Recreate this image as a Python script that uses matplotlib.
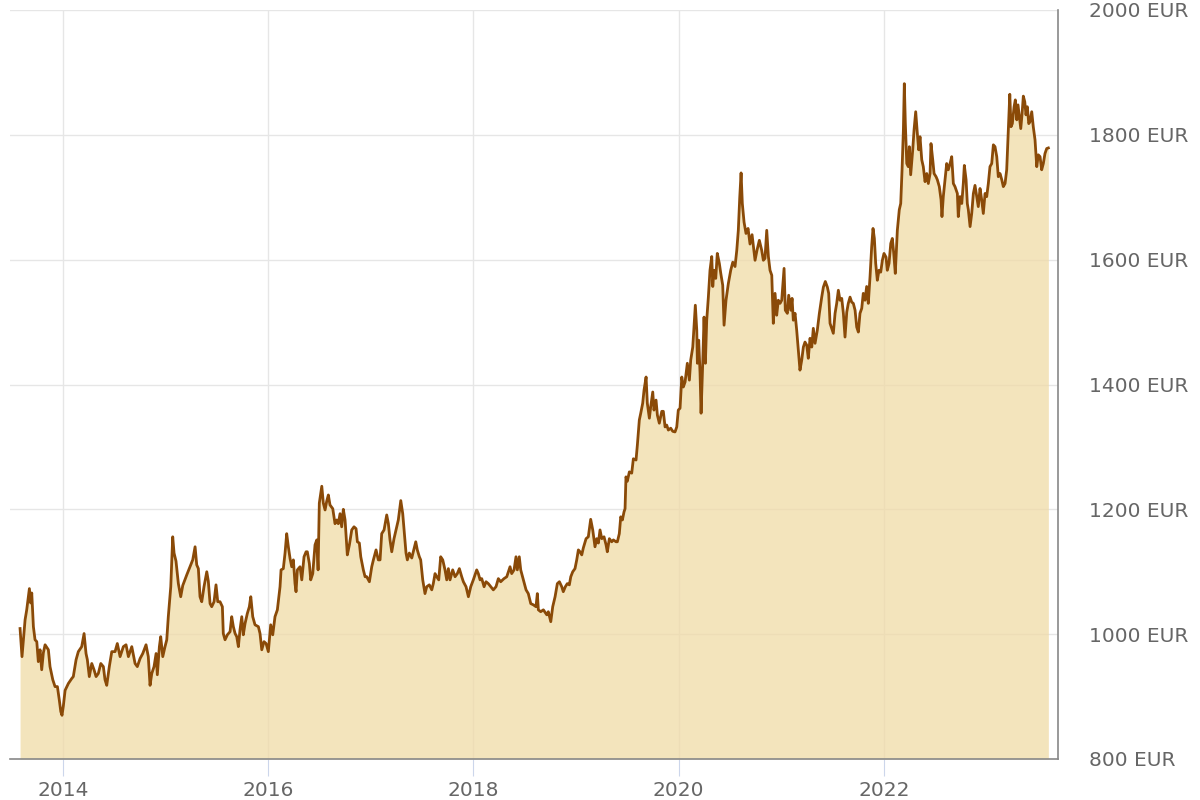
import matplotlib
matplotlib.use('Agg')
import matplotlib.pyplot as plt

plt.rcParams['font.family'] = ['DejaVu Sans']

# Goldpreis in EUR (Jahr als Dezimalzahl)
year = [
    2013.581, 2013.600, 2013.630, 2013.646, 2013.672, 2013.685, 2013.695, 2013.711, 2013.727, 2013.744,
    2013.759, 2013.776, 2013.792, 2013.808, 2013.825, 2013.857, 2013.873, 2013.900, 2013.922, 2013.945,
    2013.964, 2013.978, 2013.990, 2014.003, 2014.020, 2014.052, 2014.085, 2014.100, 2014.127, 2014.149,
    2014.182, 2014.205, 2014.224, 2014.237, 2014.256, 2014.280, 2014.302, 2014.322, 2014.344, 2014.368,
    2014.393, 2014.409, 2014.426, 2014.451, 2014.475, 2014.507, 2014.529, 2014.556, 2014.588, 2014.614,
    2014.637, 2014.670, 2014.702, 2014.724, 2014.751, 2014.777, 2014.809, 2014.831, 2014.848, 2014.865,
    2014.887, 2014.907, 2014.919, 2014.939, 2014.952, 2014.972, 2014.994, 2015.011, 2015.026, 2015.050,
    2015.069, 2015.082, 2015.101, 2015.124, 2015.147, 2015.167, 2015.206, 2015.238, 2015.264, 2015.287,
    2015.303, 2015.319, 2015.335, 2015.352, 2015.374, 2015.401, 2015.416, 2015.433, 2015.449, 2015.472,
    2015.491, 2015.508, 2015.530, 2015.553, 2015.562, 2015.579, 2015.602, 2015.628, 2015.644, 2015.660,
    2015.677, 2015.693, 2015.709, 2015.725, 2015.742, 2015.757, 2015.774, 2015.796, 2015.816, 2015.830,
    2015.849, 2015.871, 2015.904, 2015.920, 2015.937, 2015.959, 2015.979, 2016.001, 2016.024, 2016.044,
    2016.066, 2016.089, 2016.115, 2016.125, 2016.147, 2016.164, 2016.180, 2016.196, 2016.213, 2016.229,
    2016.245, 2016.261, 2016.271, 2016.284, 2016.310, 2016.327, 2016.349, 2016.369, 2016.381, 2016.401,
    2016.414, 2016.434, 2016.456, 2016.473, 2016.486, 2016.498, 2016.522, 2016.537, 2016.554, 2016.570,
    2016.586, 2016.602, 2016.629, 2016.651, 2016.668, 2016.683, 2016.700, 2016.716, 2016.732, 2016.749,
    2016.771, 2016.791, 2016.814, 2016.836, 2016.856, 2016.869, 2016.888, 2016.902, 2016.927, 2016.944,
    2016.960, 2016.986, 2017.009, 2017.025, 2017.051, 2017.073, 2017.090, 2017.106, 2017.129, 2017.155,
    2017.171, 2017.187, 2017.204, 2017.226, 2017.253, 2017.268, 2017.292, 2017.311, 2017.324, 2017.343,
    2017.356, 2017.375, 2017.399, 2017.414, 2017.438, 2017.453, 2017.473, 2017.486, 2017.506, 2017.528,
    2017.545, 2017.570, 2017.594, 2017.609, 2017.626, 2017.642, 2017.662, 2017.681, 2017.701, 2017.723,
    2017.740, 2017.756, 2017.772, 2017.798, 2017.821, 2017.843, 2017.863, 2017.886, 2017.902, 2017.928,
    2017.951, 2017.974, 2017.999, 2018.032, 2018.048, 2018.065, 2018.081, 2018.104, 2018.123, 2018.145,
    2018.169, 2018.194, 2018.220, 2018.243, 2018.266, 2018.298, 2018.325, 2018.357, 2018.373, 2018.396,
    2018.415, 2018.428, 2018.447, 2018.461, 2018.487, 2018.513, 2018.535, 2018.559, 2018.584, 2018.610,
    2018.623, 2018.633, 2018.656, 2018.682, 2018.715, 2018.730, 2018.754, 2018.773, 2018.796, 2018.818,
    2018.838, 2018.861, 2018.876, 2018.896, 2018.915, 2018.935, 2018.949, 2018.968, 2018.990, 2019.007,
    2019.023, 2019.039, 2019.056, 2019.071, 2019.098, 2019.120, 2019.143, 2019.163, 2019.185, 2019.202,
    2019.218, 2019.234, 2019.251, 2019.273, 2019.293, 2019.305, 2019.325, 2019.348, 2019.364, 2019.390,
    2019.403, 2019.422, 2019.436, 2019.452, 2019.468, 2019.478, 2019.487, 2019.500, 2019.520, 2019.543,
    2019.559, 2019.585, 2019.598, 2019.617, 2019.631, 2019.650, 2019.663, 2019.683, 2019.695, 2019.715,
    2019.728, 2019.748, 2019.760, 2019.780, 2019.793, 2019.812, 2019.836, 2019.851, 2019.868, 2019.884,
    2019.900, 2019.923, 2019.943, 2019.965, 2019.982, 2019.997, 2020.014, 2020.031, 2020.046, 2020.063,
    2020.085, 2020.105, 2020.118, 2020.138, 2020.150, 2020.163, 2020.177, 2020.183, 2020.196, 2020.209,
    2020.219, 2020.235, 2020.248, 2020.261, 2020.274, 2020.290, 2020.306, 2020.323, 2020.333, 2020.345,
    2020.362, 2020.377, 2020.397, 2020.411, 2020.430, 2020.443, 2020.462, 2020.485, 2020.508, 2020.528,
    2020.550, 2020.567, 2020.582, 2020.596, 2020.609, 2020.621, 2020.638, 2020.657, 2020.677, 2020.696,
    2020.716, 2020.745, 2020.764, 2020.787, 2020.810, 2020.826, 2020.842, 2020.859, 2020.875, 2020.891,
    2020.908, 2020.923, 2020.940, 2020.956, 2020.972, 2020.989, 2021.005, 2021.028, 2021.040, 2021.060,
    2021.073, 2021.093, 2021.106, 2021.118, 2021.135, 2021.151, 2021.167, 2021.183, 2021.200, 2021.216,
    2021.232, 2021.249, 2021.264, 2021.281, 2021.298, 2021.313, 2021.330, 2021.352, 2021.372, 2021.395,
    2021.411, 2021.430, 2021.450, 2021.463, 2021.476, 2021.492, 2021.508, 2021.525, 2021.541, 2021.557,
    2021.573, 2021.590, 2021.606, 2021.622, 2021.639, 2021.654, 2021.671, 2021.687, 2021.703, 2021.720,
    2021.736, 2021.752, 2021.768, 2021.785, 2021.800, 2021.817, 2021.833, 2021.849, 2021.866, 2021.882,
    2021.895, 2021.908, 2021.921, 2021.937, 2021.953, 2021.970, 2021.986, 2022.002, 2022.022, 2022.034,
    2022.051, 2022.068, 2022.083, 2022.097, 2022.112, 2022.132, 2022.151, 2022.165, 2022.178, 2022.191,
    2022.200, 2022.210, 2022.224, 2022.239, 2022.249, 2022.262, 2022.282, 2022.295, 2022.311, 2022.327,
    2022.340, 2022.353, 2022.370, 2022.385, 2022.402, 2022.419, 2022.434, 2022.451, 2022.460, 2022.477,
    2022.490, 2022.509, 2022.522, 2022.541, 2022.558, 2022.567, 2022.580, 2022.597, 2022.613, 2022.629,
    2022.646, 2022.662, 2022.678, 2022.694, 2022.717, 2022.726, 2022.743, 2022.760, 2022.775, 2022.785,
    2022.802, 2022.814, 2022.824, 2022.841, 2022.857, 2022.873, 2022.889, 2022.906, 2022.921, 2022.938,
    2022.954, 2022.970, 2022.987, 2023.003, 2023.019, 2023.035, 2023.052, 2023.068, 2023.084, 2023.101,
    2023.116, 2023.133, 2023.150, 2023.165, 2023.182, 2023.198, 2023.214, 2023.228, 2023.240, 2023.253,
    2023.270, 2023.282, 2023.296, 2023.308, 2023.321, 2023.335, 2023.348, 2023.360, 2023.374, 2023.386,
    2023.399, 2023.413, 2023.425, 2023.442, 2023.457, 2023.474, 2023.491, 2023.506, 2023.523, 2023.539,
    2023.555, 2023.571, 2023.588, 2023.604,
]

eur = [
    1009, 964, 1023, 1039, 1073, 1050, 1066, 1012, 991, 988,
    956, 975, 943, 970, 983, 975, 948, 927, 916, 916,
    894, 876, 870, 885, 910, 921, 929, 932, 959, 972,
    980, 1001, 969, 959, 932, 953, 943, 932, 937, 953,
    948, 927, 918, 948, 972, 972, 985, 964, 980, 983,
    964, 980, 953, 948, 961, 969, 983, 964, 918, 937,
    948, 969, 935, 980, 996, 964, 980, 991, 1028, 1076,
    1156, 1130, 1117, 1081, 1060, 1078, 1095, 1108, 1119, 1140,
    1111, 1105, 1060, 1052, 1076, 1100, 1085, 1049, 1044, 1052,
    1079, 1052, 1052, 1044, 1001, 991, 999, 1004, 1028, 1012,
    1001, 996, 980, 1007, 1028, 999, 1017, 1033, 1044, 1060,
    1028, 1015, 1012, 1001, 975, 988, 985, 972, 1015, 999,
    1028, 1039, 1076, 1103, 1105, 1130, 1161, 1140, 1121, 1108,
    1119, 1081, 1068, 1103, 1108, 1087, 1124, 1132, 1132, 1113,
    1087, 1097, 1143, 1151, 1103, 1210, 1237, 1210, 1199, 1213,
    1223, 1207, 1201, 1177, 1183, 1177, 1193, 1172, 1200, 1183,
    1127, 1143, 1167, 1172, 1169, 1148, 1146, 1124, 1103, 1092,
    1092, 1084, 1108, 1119, 1135, 1119, 1119, 1161, 1167, 1191,
    1177, 1151, 1132, 1153, 1172, 1183, 1214, 1193, 1167, 1130,
    1119, 1130, 1122, 1132, 1148, 1135, 1124, 1119, 1087, 1065,
    1076, 1079, 1071, 1081, 1097, 1092, 1087, 1124, 1119, 1103,
    1087, 1105, 1087, 1103, 1092, 1097, 1105, 1092, 1084, 1076,
    1060, 1076, 1087, 1103, 1097, 1087, 1089, 1076, 1084, 1081,
    1076, 1071, 1076, 1089, 1084, 1089, 1092, 1108, 1097, 1103,
    1124, 1103, 1124, 1103, 1087, 1071, 1065, 1049, 1047, 1044,
    1065, 1039, 1036, 1039, 1031, 1036, 1020, 1044, 1060, 1081,
    1084, 1076, 1068, 1076, 1081, 1079, 1092, 1100, 1105, 1119,
    1135, 1132, 1127, 1138, 1153, 1156, 1184, 1167, 1140, 1153,
    1146, 1167, 1153, 1156, 1143, 1132, 1153, 1148, 1151, 1148,
    1148, 1161, 1188, 1183, 1196, 1201, 1252, 1245, 1260, 1258,
    1281, 1279, 1303, 1343, 1354, 1370, 1391, 1412, 1370, 1346,
    1364, 1388, 1359, 1375, 1351, 1338, 1357, 1357, 1332, 1335,
    1327, 1330, 1325, 1324, 1332, 1359, 1362, 1412, 1396, 1404,
    1434, 1407, 1439, 1460, 1492, 1527, 1487, 1434, 1471, 1418,
    1354, 1434, 1508, 1434, 1503, 1540, 1583, 1605, 1557, 1583,
    1570, 1610, 1594, 1578, 1559, 1495, 1535, 1562, 1583, 1596,
    1589, 1615, 1647, 1700, 1739, 1690, 1660, 1642, 1650, 1625,
    1640, 1599, 1615, 1631, 1615, 1599, 1602, 1647, 1605, 1583,
    1575, 1498, 1546, 1511, 1535, 1530, 1535, 1586, 1519, 1514,
    1543, 1519, 1538, 1503, 1514, 1487, 1455, 1423, 1439, 1460,
    1468, 1463, 1442, 1474, 1460, 1490, 1466, 1487, 1514, 1540,
    1556, 1565, 1556, 1546, 1498, 1490, 1482, 1514, 1530, 1551,
    1535, 1538, 1514, 1476, 1516, 1530, 1540, 1532, 1530, 1519,
    1492, 1484, 1514, 1522, 1546, 1535, 1557, 1530, 1573, 1621,
    1650, 1634, 1594, 1567, 1583, 1580, 1599, 1610, 1604, 1583,
    1594, 1626, 1634, 1610, 1578, 1647, 1680, 1690, 1744, 1808,
    1882, 1818, 1754, 1749, 1781, 1736, 1776, 1808, 1837, 1802,
    1776, 1797, 1760, 1749, 1725, 1738, 1722, 1738, 1786, 1760,
    1738, 1733, 1728, 1717, 1696, 1669, 1701, 1728, 1754, 1744,
    1754, 1765, 1722, 1717, 1706, 1669, 1701, 1690, 1722, 1751,
    1728, 1690, 1680, 1653, 1674, 1706, 1719, 1701, 1685, 1714,
    1696, 1674, 1706, 1701, 1722, 1749, 1754, 1784, 1781, 1765,
    1733, 1738, 1728, 1717, 1722, 1744, 1808, 1865, 1813, 1818,
    1845, 1856, 1824, 1848, 1829, 1810, 1834, 1862, 1853, 1832,
    1845, 1818, 1821, 1837, 1813, 1792, 1749, 1768, 1765, 1744,
    1754, 1770, 1778, 1779,
]

x_ticks = [2014, 2016, 2018, 2020, 2022]
y_ticks = [800, 1000, 1200, 1400, 1600, 1800, 2000]
y_labels = ['%d EUR' % v for v in y_ticks]

line_color = '#8a4a08'
fill_color = '#f0dba6'
text_color = '#666666'

fig = plt.figure(figsize=(12, 8), dpi=100)
ax = fig.add_axes([10 / 1200, 41 / 800, 1048 / 1200, 749 / 800])

ax.fill_between(year, eur, 800, color=fill_color, alpha=0.75, linewidth=0, zorder=2)
ax.plot(year, eur, color=line_color, linewidth=2.0, zorder=3)

ax.set_xlim(2013.483, 2023.698)
ax.set_ylim(800, 2000)

ax.set_xticks(x_ticks)
ax.set_xticklabels([str(y) for y in x_ticks])
ax.set_yticks(y_ticks)
ax.set_yticklabels(y_labels)
ax.yaxis.tick_right()

ax.grid(True, color='#e6e6e6', linewidth=1.0, zorder=1)
ax.set_axisbelow(True)

ax.tick_params(axis='x', length=12.5, width=0.8, color='#ccd6eb', pad=3,
               labelsize=14.5, labelcolor=text_color)
ax.tick_params(axis='y', length=0, pad=22, labelsize=14.5, labelcolor=text_color)

for side in ['top', 'left']:
    ax.spines[side].set_visible(False)
for side in ['bottom', 'right']:
    ax.spines[side].set_color('#888888')
    ax.spines[side].set_linewidth(1.2)

fig.savefig('out.png', dpi=100, facecolor='white')
